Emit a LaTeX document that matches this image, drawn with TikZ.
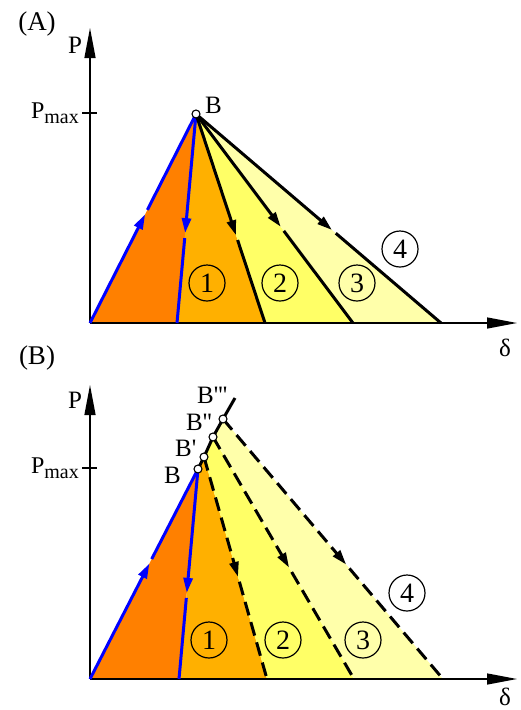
\documentclass[tikz,border=0pt]{standalone}
\usepackage{fontspec}
\newfontfamily\lserif{Liberation Serif}
\usetikzlibrary{arrows.meta,calc}
\definecolor{cOrange}{RGB}{255,128,0}
\definecolor{cAmber}{RGB}{255,176,0}
\definecolor{cYellow}{RGB}{255,255,102}
\definecolor{cPale}{RGB}{255,255,170}
\definecolor{cBlue}{RGB}{0,0,255}
\begin{document}
\begin{tikzpicture}[x=1pt,y=-1pt,
 axis/.style={line width=1.3pt, -{Triangle[length=30pt,width=11pt]}},
 tickline/.style={line width=1.3pt},
 pathline/.style={line width=3pt, line cap=butt},
 bluepath/.style={pathline, draw=cBlue},
 blackpath/.style={pathline, draw=black},
 dashpath/.style={blackpath, dash pattern=on 14pt off 7pt},
 tipped/.style={-{Triangle[length=15pt,width=9pt]}},
 lbl/.style={font=\lserif\fontsize{25}{25}\selectfont, inner sep=0pt},
 big/.style={font=\lserif\fontsize{25}{25}\selectfont, inner sep=0pt},
 num/.style={circle, draw, line width=1.2pt, minimum size=36pt, inner sep=0pt, font=\lserif\fontsize{28}{28}\selectfont},
 bpt/.style={circle, draw, fill=white, line width=1.1pt, minimum size=8pt, inner sep=0pt},
]
\useasboundingbox (0,0) rectangle (520,710);

%%%%%%%%%%%%%%%% Panel A
\coordinate (O1) at (90,323);
\coordinate (B1) at (196,114);
\coordinate (U1) at (177,323);
\coordinate (L1) at (265,323);
\coordinate (L2) at (353,323);
\coordinate (L3) at (441,323);
\coordinate (YA) at (90,28);
\coordinate (XA) at (517,323);
\coordinate (TA1) at (82,113);
\coordinate (TA2) at (97,113);

\fill[cOrange] (O1) -- (B1) -- (U1) -- cycle;
\fill[cAmber] (U1) -- (B1) -- (L1) -- cycle;
\fill[cYellow] (L1) -- (B1) -- (L2) -- cycle;
\fill[cPale] (L2) -- (B1) -- (L3) -- cycle;

\draw[axis] (O1) -- (YA);
\draw[axis] (O1) -- (XA);
\draw[tickline] (TA1) -- (TA2);

% load
\coordinate (ta0) at ($(O1)!0.52!(B1)$);
\coordinate (ga0) at ($(ta0)!5pt!(B1)$);
\draw[bluepath,tipped] (O1) -- (ta0);
\draw[bluepath] (ga0) -- (B1);
% unload
\coordinate (ta1) at ($(B1)!0.57!(U1)$);
\coordinate (ga1) at ($(ta1)!5pt!(U1)$);
\draw[bluepath,tipped] (B1) -- (ta1);
\draw[bluepath] (ga1) -- (U1);
% line 1
\coordinate (ta2) at ($(B1)!0.58!(L1)$);
\coordinate (ga2) at ($(ta2)!5pt!(L1)$);
\draw[blackpath,tipped] (B1) -- (ta2);
\draw[blackpath] (ga2) -- (L1);
% line 2
\coordinate (ta3) at ($(B1)!0.54!(L2)$);
\coordinate (ga3) at ($(ta3)!5pt!(L2)$);
\draw[blackpath,tipped] (B1) -- (ta3);
\draw[blackpath] (ga3) -- (L2);
% line 3
\coordinate (ta4) at ($(B1)!0.555!(L3)$);
\coordinate (ga4) at ($(ta4)!5pt!(L3)$);
\draw[blackpath,tipped] (B1) -- (ta4);
\draw[blackpath] (ga4) -- (L3);

\node[bpt] (pB1) at (B1) {};
\node[lbl, anchor=west] (labB1) at (205,105) {B};
\node[big, font=\lserif\fontsize{27}{27}\selectfont] (labA) at (37,24) {(A)};
\node[big] (labPA) at (75,45) {P};
\node[anchor=base east, inner sep=0pt, font=\lserif] (pmaxA) at (79,118) {\fontsize{24}{24}\selectfont P\raisebox{-5pt}{\fontsize{20}{20}\selectfont max}};
\node[big] (labdA) at (505,348) {δ};

\node[num] (nA1) at (207,283) {1};
\node[num] (nA2) at (280,283) {2};
\node[num] (nA3) at (357,283) {3};
\node[num] (nA4) at (400,249) {4};

%%%%%%%%%%%%%%%% Panel B
\coordinate (O2) at (90,679);
\coordinate (B2) at (198,469);
\coordinate (Bp) at (204,457);
\coordinate (Bpp) at (213,437);
\coordinate (Bppp) at (223,419);
\coordinate (Btop) at (235,398);
\coordinate (U2) at (179,679);
\coordinate (M1) at (267,679);
\coordinate (M2) at (354,679);
\coordinate (M3) at (443,679);
\coordinate (YB) at (90,385);
\coordinate (XB) at (517,679);
\coordinate (TB1) at (82,468);
\coordinate (TB2) at (97,468);

\fill[cOrange] (O2) -- (B2) -- (U2) -- cycle;
\fill[cAmber] (U2) -- (B2) -- (Bp) -- (M1) -- cycle;
\fill[cYellow] (M1) -- (Bp) -- (Bpp) -- (M2) -- cycle;
\fill[cPale] (M2) -- (Bpp) -- (Bppp) -- (M3) -- cycle;

\draw[axis] (O2) -- (YB);
\draw[axis] (O2) -- (XB);
\draw[tickline] (TB1) -- (TB2);

% solid envelope
\draw[blackpath] (B2) -- (Bp) -- (Bpp) -- (Bppp) -- (Btop);

% load
\coordinate (tb0) at ($(O2)!0.55!(B2)$);
\coordinate (gb0) at ($(tb0)!5pt!(B2)$);
\draw[bluepath,tipped] (O2) -- (tb0);
\draw[bluepath] (gb0) -- (B2);
% unload
\coordinate (tb1) at ($(B2)!0.59!(U2)$);
\coordinate (gb1) at ($(tb1)!5pt!(U2)$);
\draw[bluepath,tipped] (B2) -- (tb1);
\draw[bluepath] (gb1) -- (U2);
% dashed 1
\coordinate (tb2) at ($(Bp)!0.54!(M1)$);
\coordinate (gb2) at ($(tb2)!5pt!(M1)$);
\draw[dashpath,tipped] (Bp) -- (tb2);
\draw[dashpath] (gb2) -- (M1);
% dashed 2
\coordinate (tb3) at ($(Bpp)!0.54!(M2)$);
\coordinate (gb3) at ($(tb3)!5pt!(M2)$);
\draw[dashpath,tipped] (Bpp) -- (tb3);
\draw[dashpath] (gb3) -- (M2);
% dashed 3
\coordinate (tb4) at ($(Bppp)!0.56!(M3)$);
\coordinate (gb4) at ($(tb4)!5pt!(M3)$);
\draw[dashpath,tipped] (Bppp) -- (tb4);
\draw[dashpath] (gb4) -- (M3);

\node[bpt] (pB2) at (B2) {};
\node[bpt] (pBp) at (Bp) {};
\node[bpt] (pBpp) at (Bpp) {};
\node[bpt] (pBppp) at (Bppp) {};
\node[lbl, anchor=west] (labB2) at (164,475) {B};
\node[lbl, anchor=west] (labBp) at (175,448) {B'};
\node[lbl, anchor=west] (labBpp) at (186,422) {B''};
\node[lbl, anchor=west] (labBppp) at (197,395) {B'''};
\node[big, font=\lserif\fontsize{27}{27}\selectfont] (labB) at (37,358) {(B)};
\node[big] (labPB) at (75,400) {P};
\node[anchor=base east, inner sep=0pt, font=\lserif] (pmaxB) at (79,473) {\fontsize{24}{24}\selectfont P\raisebox{-5pt}{\fontsize{20}{20}\selectfont max}};
\node[big] (labdB) at (505,697) {δ};

\node[num] (nB1) at (209,640) {1};
\node[num] (nB2) at (283,640) {2};
\node[num] (nB3) at (363,640) {3};
\node[num] (nB4) at (407,593) {4};
\end{tikzpicture}
\end{document}
